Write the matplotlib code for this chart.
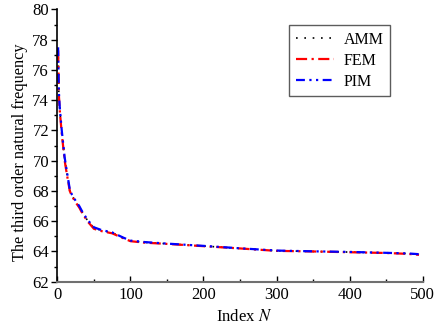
import matplotlib.pyplot as plt
from matplotlib.ticker import MultipleLocator

plt.rcParams['font.family'] = ['Liberation Serif', 'DejaVu Serif']
plt.rcParams['mathtext.fontset'] = 'stix'

# index N and third order natural frequency
n_idx = [1, 2, 3, 4, 6, 8, 10, 13, 17, 20, 25, 30, 35, 42, 50, 60, 75, 90, 100, 120,
         150, 200, 250, 300, 350, 400, 450, 480, 495]
amm = [77.4, 74.5, 73.6, 73.0, 71.9, 71.0, 70.1, 69.2, 68.0, 67.7, 67.3, 66.95, 66.5, 66.0,
       65.55, 65.4, 65.24, 64.9, 64.7, 64.6, 64.51, 64.36, 64.2, 64.05, 64.0, 63.96, 63.9,
       63.86, 63.8]
fem = [77.3, 74.4, 73.5, 72.9, 71.8, 70.9, 70.0, 69.1, 68.0, 67.65, 67.25, 66.9, 66.45, 65.95,
       65.5, 65.35, 65.2, 64.88, 64.68, 64.58, 64.5, 64.35, 64.2, 64.04, 64.0, 63.95, 63.9,
       63.84, 63.78]
pim = [77.5, 74.6, 73.7, 73.1, 72.0, 71.1, 70.2, 69.3, 68.1, 67.75, 67.35, 67.0, 66.55, 66.05,
       65.6, 65.42, 65.26, 64.92, 64.72, 64.62, 64.52, 64.37, 64.21, 64.06, 64.01, 63.97, 63.91,
       63.87, 63.82]

fig = plt.figure(figsize=(4.38, 3.33), dpi=100)
ax = fig.add_axes([0.131, 0.154, 0.834, 0.8175])

ax.plot(n_idx, amm, color='black', linestyle=(0, (1, 4)), linewidth=1.2, label='AMM')
ax.plot(n_idx, fem, color='red', linestyle=(0, (5, 2, 1, 2)), linewidth=1.6, label='FEM')
ax.plot(n_idx, pim, color='blue', linestyle=(0, (4, 2, 1, 2, 1, 2)), linewidth=1.6, label='PIM')

ax.set_xlim(0, 500)
ax.set_ylim(62, 80)
ax.xaxis.set_major_locator(MultipleLocator(100))
ax.xaxis.set_minor_locator(MultipleLocator(50))
ax.yaxis.set_major_locator(MultipleLocator(2))
ax.yaxis.set_minor_locator(MultipleLocator(1))

ax.spines['top'].set_visible(False)
ax.spines['right'].set_visible(False)
ax.spines['left'].set_linewidth(1.2)
ax.spines['bottom'].set_linewidth(1.5)
ax.spines['bottom'].set_color('#707070')

ax.tick_params(axis='y', which='major', direction='out', length=4, width=1, labelsize=12, pad=2)
ax.tick_params(axis='y', which='minor', direction='out', length=2.5, width=1)
ax.tick_params(axis='x', which='major', direction='in', length=4, width=1, labelsize=12, pad=4)
ax.tick_params(axis='x', which='minor', direction='in', length=2.5, width=1)

ax.set_xlabel('Index $N$', fontsize=12, labelpad=4)
ax.xaxis.set_label_coords(0.51, -0.1)
ax.set_ylabel('The third order natural frequency', fontsize=11.7, labelpad=2)
ax.yaxis.set_label_coords(-0.08, 0.475)

leg = ax.legend(loc='upper right', bbox_to_anchor=(0.911, 0.942), fontsize=11.5, frameon=True,
                fancybox=False, edgecolor='#333333', handlelength=2.4, handletextpad=0.6,
                borderpad=0.4, labelspacing=0.32, borderaxespad=0)
leg.get_frame().set_linewidth(1.0)

fig.savefig('out.png', dpi=100)
